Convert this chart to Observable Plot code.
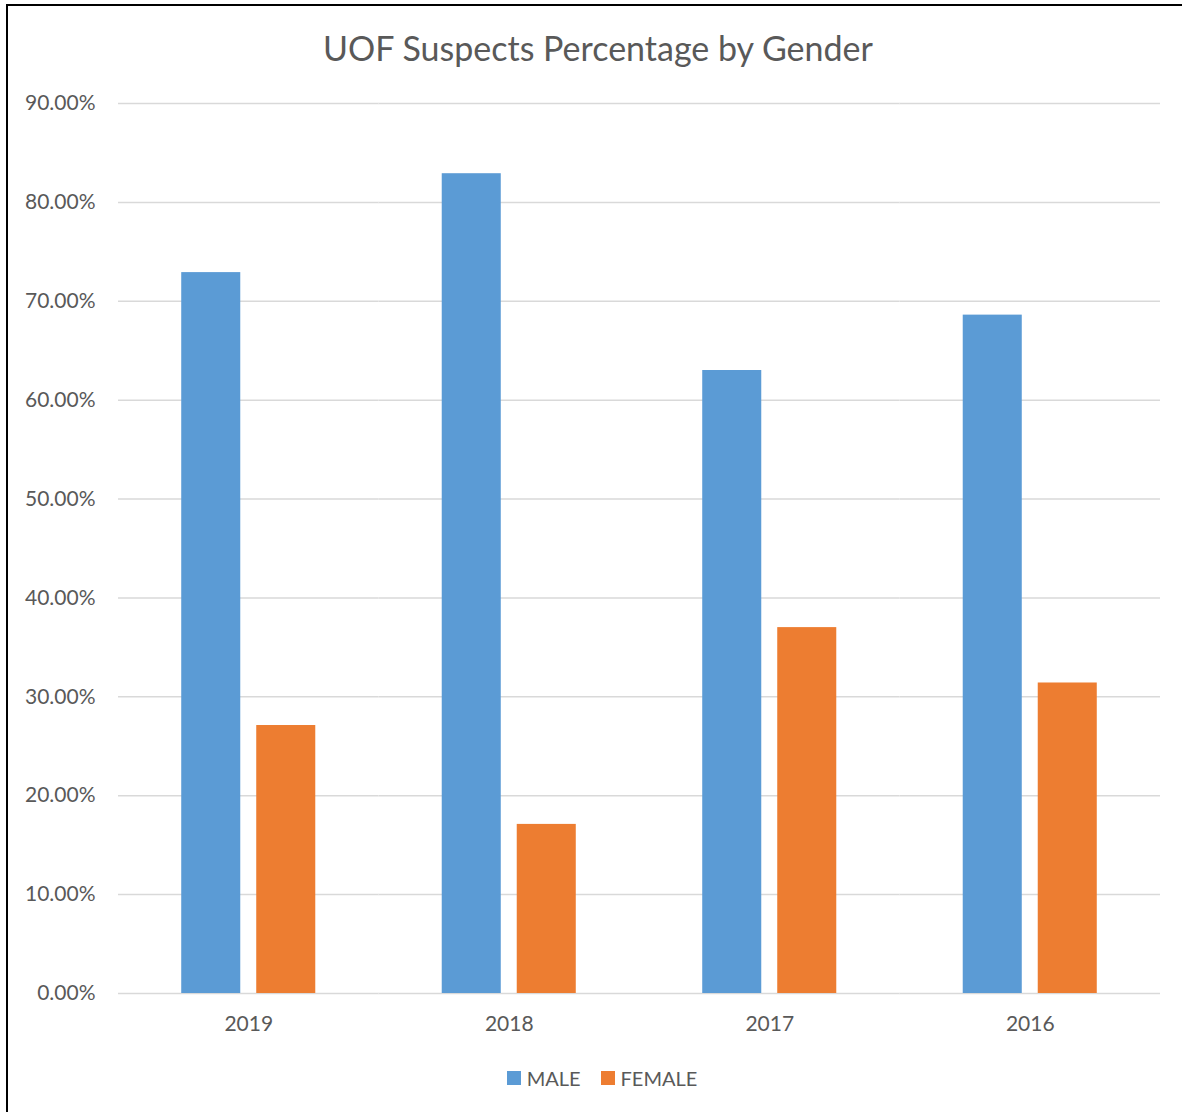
<!DOCTYPE html>
<html>
<head>
<meta charset="utf-8">
<script src="https://cdn.jsdelivr.net/npm/d3@7"></script>
<script src="https://cdn.jsdelivr.net/npm/@observablehq/plot@0.6"></script>
<style>
  html, body { margin: 0; padding: 0; background: #fff; }
  #page { position: relative; width: 1182px; height: 1112px; overflow: hidden; font-family: Lato, "Open Sans", sans-serif; color: #595959; }
  #frame { position: absolute; left: 6px; top: 4px; right: -10px; bottom: -10px; border-left: 2px solid #000; border-top: 2px solid #000; }
  #title { position: absolute; top: 28px; left: 0; width: 1196px; text-align: center; font-size: 34px; line-height: 40px; color: #595959; }
  #chart { position: absolute; left: 0; top: 80px; }
  #legend { position: absolute; top: 1064px; left: 0; width: 1204px; text-align: center; font-size: 20px; line-height: 26px; }
  .item { display: inline-flex; align-items: center; margin: 0 10px; }
  .sw { display: inline-block; width: 14px; height: 14px; margin-right: 6px; }
</style>
</head>
<body>
<div id="page">
  <div id="frame"></div>
  <div id="title">UOF Suspects Percentage by Gender</div>
  <div id="chart"></div>
  <div id="legend"></div>
</div>
<script>
const years = ["2019", "2018", "2017", "2016"];
const genders = ["MALE", "FEMALE"];
const male = [72.9, 82.9, 63.0, 68.6];
const female = [27.1, 17.1, 37.0, 31.4];
const yTicks = [0, 10, 20, 30, 40, 50, 60, 70, 80, 90];
const colors = ["#5b9bd5", "#ed7d31"];

const data = years.flatMap((yr, i) => [
  {year: yr, gender: genders[0], value: male[i]},
  {year: yr, gender: genders[1], value: female[i]}
]);

const chart = Plot.plot({
  width: 1182,
  height: 960,
  marginTop: 23,
  marginBottom: 47,
  marginLeft: 118,
  marginRight: 22,
  style: {fontFamily: "Lato, 'Open Sans', sans-serif", fontSize: "21px", color: "#595959", background: "transparent", overflow: "visible"},
  fx: {domain: years, padding: 0, round: false, label: null, axis: "bottom", tickSize: 0, tickPadding: 23},
  x: {domain: genders, paddingInner: 0.213, paddingOuter: 0.843, round: false, axis: null},
  y: {domain: [0, 90], label: null, axis: null},
  color: {domain: genders, range: colors},
  marks: [
    Plot.gridY(yTicks, {stroke: "#d9d9d9", strokeOpacity: 1, strokeWidth: 1.5}),
    Plot.axisY(yTicks, {tickFormat: d => d.toFixed(2) + "%", tickSize: 0, tickPadding: 23, label: null, fill: "#595959"}),
    Plot.barY(data, {fx: "year", x: "gender", y: "value", fill: "gender"})
  ]
});
document.getElementById("chart").appendChild(chart);

const legend = document.getElementById("legend");
genders.forEach((g, i) => {
  const item = document.createElement("span");
  item.className = "item";
  const sw = document.createElement("span");
  sw.className = "sw";
  sw.style.background = colors[i];
  item.appendChild(sw);
  item.appendChild(document.createTextNode(g));
  legend.appendChild(item);
});
</script>
</body>
</html>
